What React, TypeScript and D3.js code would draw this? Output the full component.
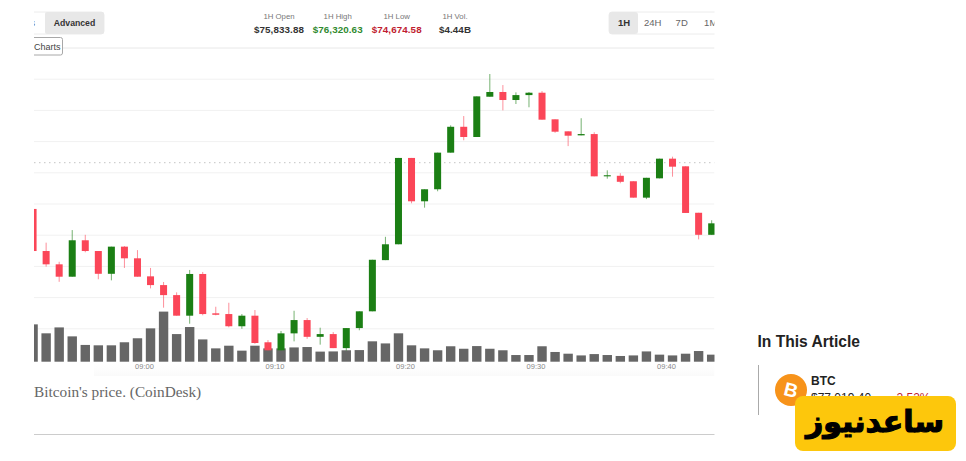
import React, { useEffect, useRef } from 'react';
import * as d3 from 'd3';

// candles, one per minute starting at 08:51
const opens = [75580, 75349, 75276, 75208, 75408, 75349, 75224, 75373, 75309, 75210, 75162, 75107, 74994, 75223, 75007, 75003, 74936, 74994, 74848, 74804, 74897, 74970, 74878, 74893, 74816, 74926, 75018, 75299, 75386, 75860, 75622, 75688, 75889, 76031, 75975, 76196, 76222, 76178, 76205, 76218, 76072, 76006, 75984, 75991, 75759, 75762, 75732, 75642, 75748, 75856, 75814, 75559, 75438];
const highs = [75580, 75395, 75290, 75464, 75438, 75349, 75373, 75376, 75354, 75256, 75179, 75122, 75245, 75234, 75043, 75065, 75003, 75025, 74860, 74910, 75021, 74981, 74928, 74904, 74926, 75018, 75301, 75427, 75860, 75860, 75688, 75889, 76039, 76090, 76198, 76320.63, 76260, 76220, 76222, 76227, 76072, 76006, 76078, 76001, 75792, 75776, 75732, 75751, 75856, 75867, 75814, 75559, 75518];
const lows = [75290, 75263, 75180, 75208, 75342, 75194, 75188, 75256, 75208, 75144, 75038, 74994, 74950, 74996, 74996, 74930, 74922, 74840, 74804, 74804, 74853, 74867, 74835, 74816, 74802, 74914, 75018, 75299, 75386, 75611, 75587, 75677, 75889, 75957, 75975, 76196, 76121, 76156, 76138, 76070, 75998, 75925, 75984, 75759, 75746, 75721, 75642, 75634, 75748, 75757, 75558, 75413, 75438];
const closes = [75349, 75276, 75208, 75408, 75349, 75224, 75373, 75309, 75208, 75162, 75107, 74994, 75223, 75003, 74999, 74936, 74994, 74844, 74804, 74897, 74970, 74878, 74893, 74816, 74926, 75018, 75301, 75386, 75860, 75622, 75688, 75889, 76031, 75975, 76198, 76222, 76178, 76205, 76218, 76070, 76004, 75982, 75991, 75759, 75765, 75729, 75642, 75751, 75856, 75812, 75558, 75438, 75501];
// volume per candle, $M
const volumes = [196, 149, 180, 133, 88, 86, 86, 102, 123, 175, 263, 145, 182, 117, 70, 84, 58, 84, 70, 70, 75, 77, 53, 54, 60, 61, 107, 96, 149, 86, 70, 60, 81, 68, 82, 68, 60, 35, 35, 81, 51, 42, 33, 40, 35, 30, 33, 54, 37, 33, 42, 56, 37];

const openPrice = 75833.88;
const stats = [
  { label: '1H Open', value: '$75,833.88', color: '#333333', x: 279 },
  { label: '1H High', value: '$76,320.63', color: '#2f8a2f', x: 337.7 },
  { label: '1H Low', value: '$74,674.58', color: '#c01c30', x: 396.7 },
  { label: '1H Vol.', value: '$4.44B', color: '#333333', x: 455 },
];
const ranges = [
  { label: '1H', x: 624 },
  { label: '24H', x: 652.7 },
  { label: '7D', x: 681.7 },
  { label: '1M', x: 710.7 },
];
const gridPrices = d3.range(0, 10).map(i => 76463.5 - i * 171.3);

const SANS = '"Liberation Sans", Arial, sans-serif';
const UP = '#1b7f14';
const DOWN = '#fb4658';

const minute = (h: number, m: number) => new Date(Date.UTC(2024, 10, 11, h, m));
const times = opens.map((_, i) => minute(8, 51 + i));

const App: React.FC = () => {
  const axisRef = useRef<SVGGElement | null>(null);

  const left = 34;
  const right = 714.5;
  const baseline = 361.7;

  // 13.05px a minute, ticks sit at the start of a candle's slot
  const x = d3.scaleTime()
    .domain([minute(8, 50), minute(9, 44)])
    .range([13.5, 718.2]);
  const slot = 13.05;

  const y = d3.scaleLinear().domain([76727, 74804]).range([0, 350.3]);
  const v = d3.scaleLinear().domain([0, 263]).range([baseline, baseline - 50.1]);

  useEffect(() => {
    if (!axisRef.current) return;
    const axis = d3.axisBottom(x)
      .tickValues([minute(9, 0), minute(9, 10), minute(9, 20), minute(9, 30), minute(9, 40)])
      .tickFormat(d => d3.utcFormat('%H:%M')(d as Date))
      .tickSize(0)
      .tickPadding(0);
    const g = d3.select(axisRef.current);
    g.call(axis);
    g.select('.domain').remove();
    g.selectAll('text')
      .attr('y', 2)
      .style('font-size', '7.5px')
      .style('font-family', SANS)
      .style('fill', '#888888');
  }, []);

  return (
    <svg
      width={966}
      height={461}
      viewBox="0 0 966 461"
      style={{ position: 'absolute', left: 0, top: 0, display: 'block', background: '#fff' }}
    >
      <defs>
        <clipPath id="plot">
          <rect x={left} y={0} width={right - left} height={461} />
        </clipPath>
        <linearGradient id="fade" x1="0" y1="0" x2="0" y2="1">
          <stop offset="0" stopColor="#ffffff" />
          <stop offset="1" stopColor="#fafafa" />
        </linearGradient>
      </defs>

      <g clipPath="url(#plot)">
        <rect x={left + 60} y={364} width={right - left - 60} height={12} fill="url(#fade)" />

        {/* Grid */}
        {gridPrices.map((p, i) => (
          <line key={p} x1={left} x2={right} y1={y(p)} y2={y(p)} stroke={i === 0 ? '#e8e8e8' : '#f1f1f1'} />
        ))}
        <line
          x1={left}
          x2={right}
          y1={y(openPrice)}
          y2={y(openPrice)}
          stroke="#c4c4c4"
          strokeWidth={1}
          strokeDasharray="1.5 3.5"
        />

        {/* Volume */}
        {times.map((t, i) => (
          <rect
            key={i}
            x={x(t) + slot / 2 - 4.7}
            y={v(volumes[i])}
            width={9.4}
            height={baseline - v(volumes[i])}
            fill="#666666"
          />
        ))}

        {/* Candles */}
        {times.map((t, i) => {
          const cx = x(t) + slot / 2;
          const color = closes[i] >= opens[i] ? UP : DOWN;
          const top = y(Math.max(opens[i], closes[i]));
          const bottom = y(Math.min(opens[i], closes[i]));
          return (
            <g key={i}>
              <line x1={cx} x2={cx} y1={y(highs[i])} y2={y(lows[i])} stroke={color} strokeOpacity={0.6} />
              <rect x={cx - 3.5} y={top} width={7} height={Math.max(bottom - top, 1)} fill={color} />
            </g>
          );
        })}

        <g ref={axisRef} transform={`translate(0, ${baseline})`} />

        {/* Mode switch */}
        <rect x={20} y={12} width={84} height={22} rx={3} fill="#ffffff" stroke="#ececec" />
        <rect x={45} y={12} width={59} height={22} rx={2} fill="#e8e8e8" />
        <text x={74.5} y={26.3} textAnchor="middle" fontFamily={SANS} fontSize={8.7} fontWeight={700} fill="#333333">
          Advanced
        </text>
        <text x={30.5} y={26} fontFamily={SANS} fontSize={9} fill="#555555">s</text>

        <rect x={20} y={37.5} width={42.5} height={17.5} rx={2} fill="#ffffff" stroke="#a8a8a8" />
        <text x={34} y={49.6} fontFamily={SANS} fontSize={9} fill="#444444">Charts</text>

        {/* Range switch */}
        <rect x={609} y={12} width={120} height={22} rx={3} fill="#ffffff" stroke="#ececec" />
        <rect x={609} y={12} width={29} height={22} rx={3} fill="#e8e8e8" />
        {ranges.map((r, i) => (
          <text
            key={r.label}
            x={r.x}
            y={26.3}
            textAnchor="middle"
            fontFamily={SANS}
            fontSize={9.5}
            fontWeight={i === 0 ? 700 : 400}
            fill={i === 0 ? '#333333' : '#666666'}
          >
            {r.label}
          </text>
        ))}
      </g>

      {/* Stats */}
      {stats.map(s => (
        <g key={s.label} textAnchor="middle" fontFamily={SANS}>
          <text x={s.x} y={19} fontSize={7.8} fill="#777777">{s.label}</text>
          <text x={s.x} y={33} fontSize={9.8} fontWeight={700} fill={s.color} letterSpacing={0.1}>{s.value}</text>
        </g>
      ))}

      {/* Caption */}
      <text x={34} y={396.5} fontFamily='"Liberation Serif", serif' fontSize={15.3} fill="#666666">
        Bitcoin's price. (CoinDesk)
      </text>
      <line x1={34} x2={714.5} y1={434.5} y2={434.5} stroke="#cccccc" />

      {/* Sidebar */}
      <text x={757.5} y={346.5} fontFamily={SANS} fontSize={15.6} fontWeight={700} fill="#222222">
        In This Article
      </text>
      <line x1={758.5} x2={758.5} y1={365} y2={415} stroke="#aaaaaa" />
      <circle cx={791} cy={390} r={16} fill="#f7931a" />
      <text
        x={791}
        y={396.5}
        textAnchor="middle"
        fontFamily={SANS}
        fontSize={19}
        fontWeight={700}
        fill="#ffffff"
        transform="rotate(14 791 390)"
      >
        B
      </text>
      <text x={811} y={385} fontFamily={SANS} fontSize={12} fontWeight={700} fill="#222222">BTC</text>
      <text x={811} y={402} fontFamily={SANS} fontSize={12} fill="#222222">$77,019.40</text>
      <text x={896.5} y={402} fontFamily={SANS} fontSize={12} fill="#c01c30">2.52%</text>

      {/* Watermark */}
      <rect x={795} y={396} width={161} height={55} rx={8} fill="#fdc70c" />
      <text
        x={875}
        y={432}
        textAnchor="middle"
        direction="rtl"
        fontFamily='"DejaVu Sans", sans-serif'
        fontSize={30}
        fontWeight={700}
        fill="#000000"
        stroke="#000000"
        strokeWidth={1.2}
      >
        ساعدنیوز
      </text>
    </svg>
  );
};

export default App;
